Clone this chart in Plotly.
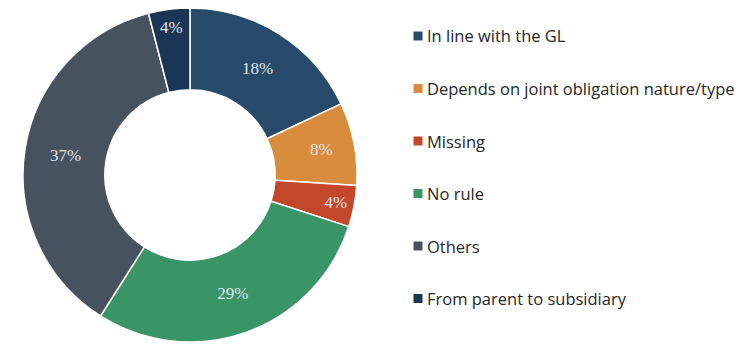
import plotly.graph_objects as go

# Share of answers per category (percent)
categories = [
    "In line with the GL",
    "Depends on joint obligation nature/type",
    "Missing",
    "No rule",
    "Others",
    "From parent to subsidiary",
]
shares = [18, 8, 4, 29, 37, 4]
colors = ["#284b6c", "#d98c3c", "#c2472b", "#3a9566", "#46525d", "#1b3555"]

W, H = 738, 348
cx, cy, r = 190, 175, 167  # donut centre and outer radius in pixels

fig = go.Figure(
    go.Pie(
        labels=categories,
        values=shares,
        hole=0.51,
        sort=False,
        direction="clockwise",
        rotation=0,
        marker=dict(colors=colors, line=dict(color="#ffffff", width=1.5)),
        texttemplate="%{value}%",
        textposition="inside",
        insidetextorientation="horizontal",
        textfont=dict(family="Liberation Serif, DejaVu Serif, serif", size=17, color="#dfe5ec"),
        showlegend=False,
        domain=dict(
            x=[(cx - r) / W, (cx + r) / W],
            y=[(H - cy - r) / H, (H - cy + r) / H],
        ),
    )
)

# Legend: coloured squares with labels, evenly spaced down the right side
legend_x = 418
legend_y0 = 36
legend_step = 52.5
sq = 9
shapes = []
annotations = []
for i, (name, col) in enumerate(zip(categories, colors)):
    y = legend_y0 + i * legend_step
    shapes.append(dict(
        type="rect", xref="paper", yref="paper",
        x0=(legend_x - sq / 2) / W, x1=(legend_x + sq / 2) / W,
        y0=(H - y - sq / 2) / H, y1=(H - y + sq / 2) / H,
        fillcolor=col, line=dict(width=0),
    ))
    annotations.append(dict(
        text=name, xref="paper", yref="paper",
        x=(legend_x + 7) / W, y=(H - y) / H,
        xanchor="left", yanchor="middle", showarrow=False,
        font=dict(family="Open Sans, Liberation Sans, sans-serif", size=16.5, color="#262626"),
    ))

fig.update_layout(
    width=W, height=H,
    margin=dict(l=0, r=0, t=0, b=0),
    paper_bgcolor="#ffffff",
    plot_bgcolor="#ffffff",
    shapes=shapes,
    annotations=annotations,
)

fig.write_html("out.html")
